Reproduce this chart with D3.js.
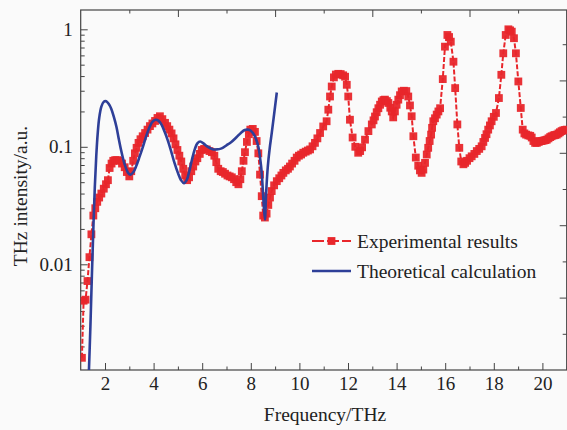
<!DOCTYPE html>
<html>
<head>
<meta charset="utf-8">
<script src="https://cdn.jsdelivr.net/npm/d3@7"></script>
<style>
  body { margin: 0; background: #fafafa; }
  text { font-family: "Liberation Serif", "Times New Roman", serif; fill: #222; }
</style>
</head>
<body>
<div id="content"></div>
<script>
// measured data (frequency in THz, intensity in a.u.)
var expFreq = [1.05, 1.12, 1.2, 1.28, 1.36, 1.44, 1.52, 1.6, 1.68, 1.76, 1.85, 1.95, 2.04, 2.12, 2.19, 2.27, 2.34, 2.42, 2.5, 2.6,
  2.7, 2.81, 2.9, 3.0, 3.08, 3.16, 3.23, 3.3, 3.38, 3.46, 3.55, 3.65, 3.75, 3.85, 3.95, 4.06, 4.16, 4.26, 4.36, 4.47,
  4.56, 4.65, 4.74, 4.82, 4.9, 4.98, 5.06, 5.14, 5.22, 5.3, 5.38, 5.46, 5.55, 5.63, 5.72, 5.8, 5.9, 5.98, 6.08, 6.19,
  6.3, 6.4, 6.5, 6.58, 6.66, 6.76, 6.85, 6.94, 7.04, 7.13, 7.22, 7.31, 7.4, 7.49, 7.57, 7.63, 7.7, 7.76, 7.84, 7.92,
  7.98, 8.08, 8.17, 8.24, 8.31, 8.38, 8.45, 8.51, 8.58, 8.65, 8.72, 8.79, 8.86, 8.96, 9.07, 9.17, 9.26, 9.34, 9.44, 9.53,
  9.61, 9.7, 9.8, 9.89, 9.98, 10.07, 10.16, 10.26, 10.35, 10.44, 10.54, 10.64, 10.74, 10.85, 10.98, 11.12, 11.19, 11.26, 11.33, 11.42,
  11.5, 11.6, 11.7, 11.8, 11.88, 11.95, 12.01, 12.08, 12.19, 12.3, 12.42, 12.5, 12.58, 12.7, 12.84, 12.98, 13.05, 13.11, 13.18, 13.25,
  13.32, 13.39, 13.46, 13.52, 13.6, 13.66, 13.74, 13.8, 13.86, 13.93, 14.0, 14.07, 14.14, 14.21, 14.3, 14.4, 14.48, 14.55, 14.62, 14.69,
  14.79, 14.89, 14.96, 15.03, 15.1, 15.17, 15.24, 15.3, 15.36, 15.42, 15.46, 15.51, 15.58, 15.65, 15.72, 15.79, 15.9, 15.99, 16.09, 16.16,
  16.23, 16.34, 16.41, 16.5, 16.58, 16.66, 16.75, 16.82, 16.9, 17.0, 17.09, 17.2, 17.3, 17.4, 17.5, 17.57, 17.64, 17.7, 17.77, 17.84,
  17.91, 18.0, 18.09, 18.21, 18.31, 18.39, 18.49, 18.6, 18.67, 18.74, 18.83, 18.91, 19.01, 19.11, 19.19, 19.26, 19.33, 19.42, 19.5, 19.56,
  19.63, 19.7, 19.77, 19.85, 19.92, 19.97, 20.05, 20.12, 20.18, 20.25, 20.32, 20.38, 20.46, 20.52, 20.59, 20.66, 20.72, 20.79, 20.86, 20.93, 21.0];
var expValue = [0.0016, 0.0049, 0.005, 0.0072, 0.0115, 0.018, 0.026, 0.03, 0.034, 0.037, 0.04, 0.044, 0.048, 0.052, 0.066, 0.072, 0.076, 0.077, 0.077, 0.076,
  0.072, 0.067, 0.061, 0.056, 0.062, 0.076, 0.088, 0.098, 0.108, 0.116, 0.123, 0.131, 0.14, 0.15, 0.158, 0.166, 0.176, 0.182, 0.172, 0.16,
  0.15, 0.14, 0.13, 0.118, 0.105, 0.094, 0.084, 0.075, 0.065, 0.057, 0.052, 0.055, 0.062, 0.068, 0.075, 0.08, 0.087, 0.094, 0.096, 0.095,
  0.092, 0.09, 0.084, 0.074, 0.065, 0.062, 0.061, 0.059, 0.057, 0.056, 0.055, 0.053, 0.05, 0.048, 0.053, 0.062, 0.076, 0.09, 0.11, 0.128,
  0.14, 0.142, 0.134, 0.112, 0.088, 0.058, 0.038, 0.026, 0.025, 0.027, 0.032, 0.037, 0.042, 0.047, 0.051, 0.054, 0.057, 0.06, 0.063, 0.065,
  0.068, 0.072, 0.076, 0.081, 0.084, 0.086, 0.089, 0.091, 0.093, 0.095, 0.101, 0.108, 0.118, 0.131, 0.149, 0.165, 0.207, 0.268, 0.326, 0.39,
  0.412, 0.418, 0.416, 0.406, 0.395, 0.337, 0.268, 0.17, 0.12, 0.1, 0.089, 0.092, 0.099, 0.115, 0.136, 0.155, 0.168, 0.181, 0.197, 0.213,
  0.228, 0.243, 0.25, 0.252, 0.245, 0.236, 0.215, 0.2, 0.178, 0.2, 0.228, 0.252, 0.275, 0.296, 0.3, 0.298, 0.268, 0.225, 0.182, 0.123,
  0.081, 0.069, 0.063, 0.06, 0.064, 0.073, 0.086, 0.098, 0.112, 0.127, 0.145, 0.165, 0.175, 0.188, 0.2, 0.213, 0.377, 0.712, 0.895, 0.86,
  0.785, 0.53, 0.316, 0.155, 0.098, 0.075, 0.071, 0.073, 0.076, 0.08, 0.083, 0.087, 0.092, 0.096, 0.101, 0.11, 0.119, 0.128, 0.14, 0.152,
  0.165, 0.18, 0.194, 0.26, 0.41, 0.625, 0.895, 1.0, 0.98, 0.955, 0.84, 0.625, 0.36, 0.214, 0.14, 0.13, 0.127, 0.125, 0.124, 0.12,
  0.112, 0.108, 0.108, 0.11, 0.112, 0.112, 0.113, 0.114, 0.115, 0.118, 0.121, 0.123, 0.125, 0.126, 0.127, 0.13, 0.133, 0.136, 0.138, 0.139, 0.14];

// theoretical curve
var theoFreq = [1.33, 1.4, 1.46, 1.52, 1.58, 1.64, 1.7, 1.76, 1.85, 1.95, 2.05, 2.15, 2.26, 2.37, 2.47, 2.57, 2.67, 2.8, 2.95, 3.05,
  3.17, 3.29, 3.42, 3.56, 3.7, 3.84, 3.95, 4.08, 4.2, 4.32, 4.45, 4.58, 4.72, 4.85, 5.0, 5.13, 5.25, 5.36, 5.47, 5.58,
  5.7, 5.8, 5.92, 6.05, 6.2, 6.4, 6.6, 6.8, 7.0, 7.2, 7.4, 7.6, 7.75, 7.88, 8.0, 8.15, 8.31, 8.4, 8.45, 8.52,
  8.58, 8.63, 8.7, 8.78, 8.86, 8.96, 9.07];
var theoValue = [0.0011, 0.003, 0.008, 0.02, 0.045, 0.083, 0.13, 0.175, 0.22, 0.242, 0.244, 0.232, 0.21, 0.178, 0.148, 0.116, 0.092, 0.072, 0.06, 0.058,
  0.061, 0.069, 0.082, 0.1, 0.124, 0.148, 0.163, 0.17, 0.167, 0.155, 0.135, 0.114, 0.092, 0.074, 0.06, 0.052, 0.049, 0.052, 0.062, 0.078,
  0.096, 0.107, 0.111, 0.107, 0.101, 0.096, 0.095, 0.097, 0.103, 0.11, 0.12, 0.132, 0.139, 0.14, 0.137, 0.125, 0.1, 0.075, 0.06, 0.035,
  0.024, 0.04, 0.068, 0.098, 0.13, 0.19, 0.29];

var bottomTicks = [2, 4, 6, 8, 10, 12, 14, 16, 18, 20];
var bottomMinor = [3, 5, 7, 9, 11, 13, 15, 17, 19, 21];
var topTicks = [5, 9, 13, 17];
var topMinor = [3, 7, 11, 15, 19];
var leftTicks = [0.01, 0.1, 1];
var leftLabels = ["0.01", "0.1", "1"];
var rightTicks = [2, 4, 6, 8];
var rightMinor = [1, 3, 5, 7, 9];

var width = 567;
var height = 430;
var margin = { top: 10, right: 0.3, bottom: 60, left: 80.7 };

var svg = d3.select("#content").append("svg").attr("width", width).attr("height", height);

var x = d3.scaleLinear().domain([1, 21]).range([margin.left, width - margin.right]);
var y = d3.scaleLog().domain([0.00126, 1.46]).range([height - margin.bottom, margin.top]);
var yRight = d3.scaleLinear().domain([0, 9.945]).range([height - margin.bottom, margin.top]);

var axisColor = "#444";

svg.append("clipPath").attr("id", "plot")
  .append("rect")
  .attr("x", margin.left).attr("y", margin.top)
  .attr("width", width - margin.left - margin.right)
  .attr("height", height - margin.top - margin.bottom);

function styleAxis(g) {
  g.select(".domain").remove();
  g.selectAll("line").attr("stroke", axisColor);
  g.selectAll("text").style("font-size", "19px").style("font-family", "Liberation Serif").attr("fill", "#222");
}

// bottom axis
svg.append("g")
  .attr("transform", `translate(0, ${height - margin.bottom})`)
  .call(d3.axisBottom(x).tickValues(bottomTicks).tickSize(-7).tickPadding(7).tickFormat(d3.format("d")))
  .call(styleAxis);
svg.append("g")
  .attr("transform", `translate(0, ${height - margin.bottom})`)
  .call(d3.axisBottom(x).tickValues(bottomMinor).tickSize(-3.5).tickFormat(""))
  .call(styleAxis);

// top axis
svg.append("g")
  .attr("transform", `translate(0, ${margin.top})`)
  .call(d3.axisTop(x).tickValues(topTicks).tickSize(-7).tickFormat(""))
  .call(styleAxis);
svg.append("g")
  .attr("transform", `translate(0, ${margin.top})`)
  .call(d3.axisTop(x).tickValues(topMinor).tickSize(-3.5).tickFormat(""))
  .call(styleAxis);

// left axis
svg.append("g")
  .attr("transform", `translate(${margin.left}, 0)`)
  .call(d3.axisLeft(y).tickValues(leftTicks).tickSize(-7).tickPadding(8)
    .tickFormat((d, i) => leftLabels[i]))
  .call(styleAxis);
var leftMinor = y.ticks().filter(d => leftTicks.indexOf(d) < 0 && d >= y.domain()[0] && d <= y.domain()[1]);
svg.append("g")
  .attr("transform", `translate(${margin.left}, 0)`)
  .call(d3.axisLeft(y).tickValues(leftMinor).tickSize(-4).tickFormat(""))
  .call(styleAxis);

// right axis
svg.append("g")
  .attr("transform", `translate(${width - margin.right}, 0)`)
  .call(d3.axisRight(yRight).tickValues(rightTicks).tickSize(-7).tickFormat(""))
  .call(styleAxis);
svg.append("g")
  .attr("transform", `translate(${width - margin.right}, 0)`)
  .call(d3.axisRight(yRight).tickValues(rightMinor).tickSize(-4).tickFormat(""))
  .call(styleAxis);

// frame
svg.append("rect")
  .attr("x", margin.left).attr("y", margin.top)
  .attr("width", width - margin.left - margin.right)
  .attr("height", height - margin.top - margin.bottom)
  .attr("fill", "none")
  .attr("stroke", axisColor)
  .attr("stroke-width", 1.2);

var expData = expFreq.map((f, i) => ({ f: f, v: expValue[i] }));
var theoData = theoFreq.map((f, i) => ({ f: f, v: theoValue[i] }));

var red = "#e8262b";
var blue = "#2e3f98";

var plot = svg.append("g").attr("clip-path", "url(#plot)");

var expLine = d3.line().x(d => x(d.f)).y(d => y(d.v));
plot.append("path")
  .datum(expData)
  .attr("d", expLine)
  .attr("fill", "none")
  .attr("stroke", red)
  .attr("stroke-width", 2)
  .attr("stroke-dasharray", "5,2");

plot.selectAll(".marker")
  .data(expData)
  .enter()
  .append("rect")
  .attr("class", "marker")
  .attr("x", d => x(d.f) - 3.9)
  .attr("y", d => y(d.v) - 3.9)
  .attr("width", 7.8)
  .attr("height", 7.8)
  .attr("fill", red)
  .attr("fill-opacity", 0.95);

var theoLine = d3.line().curve(d3.curveCatmullRom).x(d => x(d.f)).y(d => y(d.v));
plot.append("path")
  .datum(theoData)
  .attr("d", theoLine)
  .attr("fill", "none")
  .attr("stroke", blue)
  .attr("stroke-width", 2.6);

// legend
var legend = svg.append("g").attr("transform", "translate(312, 241)");
legend.append("line")
  .attr("x1", 0).attr("x2", 39).attr("y1", 0).attr("y2", 0)
  .attr("stroke", red).attr("stroke-width", 2).attr("stroke-dasharray", "12,3");
legend.append("rect")
  .attr("x", 15.6).attr("y", -3.9).attr("width", 7.8).attr("height", 7.8).attr("fill", red);
legend.append("text").attr("x", 45).attr("y", 7).style("font-size", "19.5px").text("Experimental results");
legend.append("line")
  .attr("x1", 0).attr("x2", 39).attr("y1", 30).attr("y2", 30)
  .attr("stroke", blue).attr("stroke-width", 2.6);
legend.append("text").attr("x", 45).attr("y", 37).style("font-size", "19.5px").text("Theoretical calculation");

// axis titles
svg.append("text")
  .attr("x", 325)
  .attr("y", 421)
  .style("text-anchor", "middle")
  .style("font-size", "19.5px")
  .text("Frequency/THz");

svg.append("text")
  .attr("transform", "rotate(-90)")
  .attr("x", -196)
  .attr("y", 27)
  .style("text-anchor", "middle")
  .style("font-size", "19.5px")
  .text("THz intensity/a.u.");
</script>
</body>
</html>
